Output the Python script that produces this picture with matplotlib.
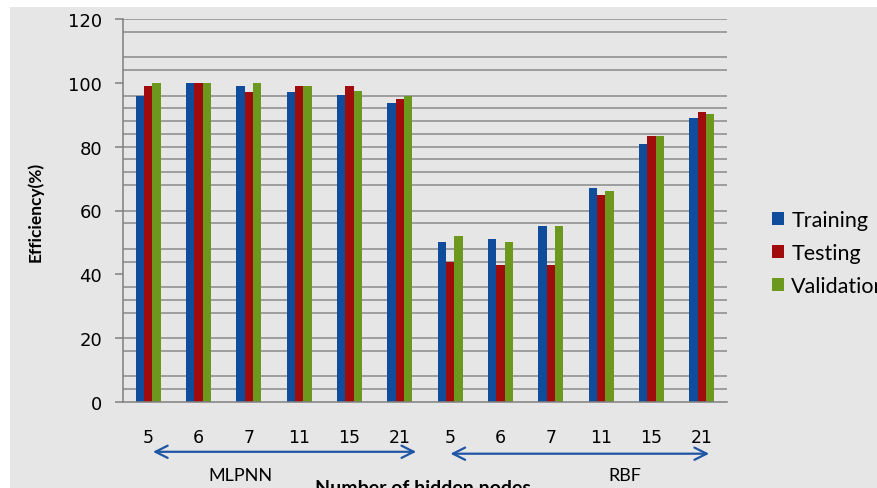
import numpy as np
import matplotlib.pyplot as plt
from matplotlib.patches import Rectangle

plt.rcParams['font.family'] = ['Lato', 'DejaVu Sans']

nodes = ['5', '6', '7', '11', '15', '21', '5', '6', '7', '11', '15', '21']
training = [96, 100, 99, 97, 96.3, 93.7, 50, 51, 55.2, 66.9, 80.9, 88.9]
testing = [99, 100, 97, 99, 99, 94.9, 44, 43, 43, 65, 83.2, 91]
validation = [100, 100, 100, 99, 97.5, 96, 52, 50, 55.2, 66, 83.2, 90.3]

# horizontal rules that are visible in the original scan
grid_levels = [4, 8, 16, 20, 28, 32, 36, 44, 48, 56, 60, 68, 72, 76, 80,
               84, 88, 92, 96, 104, 108, 116, 120]

blue, red, green = '#0f4d9c', '#a00b0b', '#6b981d'
bg = '#e6e6e6'

fig = plt.figure(figsize=(8.78, 4.89), dpi=100, facecolor='white')
fig.patches.append(Rectangle((10 / 878, 0), 1, 1 - 8 / 489, transform=fig.transFigure,
                             facecolor=bg, edgecolor='none', zorder=-10))
ax = fig.add_axes([123 / 878, 86 / 489, 604 / 878, 383 / 489])
ax.set_facecolor(bg)

for lv in grid_levels:
    ax.axhline(lv, color='#8a8a8a', lw=1.1, zorder=0)

x = np.arange(len(nodes))
w = 0.165
ax.bar(x - w, training, w, color=blue, label='Training', zorder=2)
ax.bar(x, testing, w, color=red, label='Testing', zorder=2)
ax.bar(x + w, validation, w, color=green, label='Validation', zorder=2)

ax.set_xlim(-0.5, 11.5)
ax.set_ylim(0, 120)
ax.set_yticks(range(0, 121, 20))
ax.set_yticklabels([str(v) for v in range(0, 121, 20)], family='DejaVu Sans',
                   fontsize=13)
ax.tick_params(axis='y', length=6, width=1.1, color='#7f7f7f', pad=9)
ax.set_xticks(x)
ax.set_xticklabels(nodes, family='DejaVu Sans', fontsize=12.5)
ax.tick_params(axis='x', length=0, pad=19)

for s in ['top', 'right']:
    ax.spines[s].set_visible(False)
for s in ['left', 'bottom']:
    ax.spines[s].set_color('#7f7f7f')
    ax.spines[s].set_linewidth(1.1)

ax.set_ylabel('Efficiency(%)', fontsize=12.5, fontweight='bold')
ax.yaxis.set_label_coords(-0.132, 0.5)

arrow = dict(arrowstyle='<->', color='#1f55a5', lw=1.6, mutation_scale=22)
ax.annotate('', xy=(0.04, -0.13), xytext=(5.38, -0.13),
            xycoords=('data', 'axes fraction'), arrowprops=arrow)
ax.annotate('', xy=(5.95, -0.135), xytext=(11.2, -0.135),
            xycoords=('data', 'axes fraction'), arrowprops=arrow)
ax.text(1.83, -0.19, 'MLPNN', transform=ax.get_xaxis_transform(),
        ha='center', va='center', fontsize=13)
ax.text(9.46, -0.19, 'RBF', transform=ax.get_xaxis_transform(),
        ha='center', va='center', fontsize=13)
ax.text(5.45, -0.2, 'Number of hidden nodes', transform=ax.get_xaxis_transform(),
        ha='center', va='top', fontsize=14, fontweight='bold')

fig.legend(loc='upper left', bbox_to_anchor=(0.857, 1 - 192 / 489), frameon=False,
           fontsize=15.5, handlelength=0.55, handleheight=0.55, handletextpad=0.35,
           labelspacing=0.6)

fig.savefig('out.png', dpi=100)
